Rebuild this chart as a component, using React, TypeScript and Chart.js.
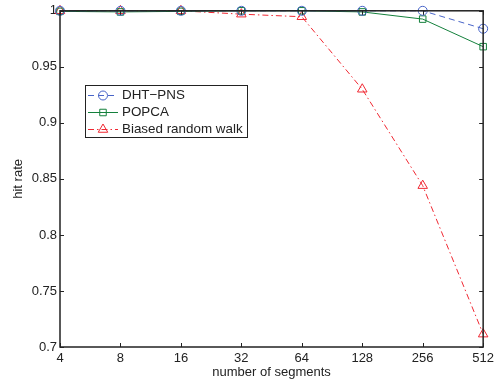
import React, { useEffect, useRef } from "react";
import { Chart, registerables } from "chart.js";

Chart.register(...registerables);

const categories = ["4", "8", "16", "32", "64", "128", "256", "512"];
const dhtPns = [1.0, 1.0, 1.0, 1.0, 1.0, 1.0, 1.0, 0.984];
const popca = [0.9995, 0.999, 0.9995, 1.0, 1.0, 0.999, 0.9926, 0.968];
const biased = [1.0, 1.0, 1.0, 0.997, 0.9947, 0.93, 0.844, 0.7115];
const yTickLabels = ["0.7", "0.75", "0.8", "0.85", "0.9", "0.95", "1"];

const FONT = "'Liberation Sans', Arial, Helvetica, sans-serif";
const BLUE = "rgb(72,100,200)";
const GREEN = "rgb(20,128,60)";
const RED = "rgb(240,40,50)";

const boxPlugin = {
  id: "matlabBox",
  afterDraw(chart: any) {
    const { ctx, chartArea } = chart;
    const { left, right, top, bottom } = chartArea;
    const xs = chart.scales.x;
    const ys = chart.scales.y;
    ctx.save();
    ctx.strokeStyle = "#222";
    ctx.lineWidth = 1.5;
    ctx.strokeRect(left, top, right - left, bottom - top);
    ctx.lineWidth = 1;
    const tl = 4;
    ctx.beginPath();
    xs.ticks.forEach((_t: any, i: number) => {
      const x = Math.round(xs.getPixelForTick(i)) + 0.5;
      ctx.moveTo(x, bottom);
      ctx.lineTo(x, bottom - tl);
      ctx.moveTo(x, top);
      ctx.lineTo(x, top + tl);
    });
    ys.ticks.forEach((_t: any, i: number) => {
      const y = Math.round(ys.getPixelForTick(i)) + 0.5;
      ctx.moveTo(left, y);
      ctx.lineTo(left + tl, y);
      ctx.moveTo(right, y);
      ctx.lineTo(right - tl, y);
    });
    ctx.stroke();

    // legend
    const bx = 85, by = 85, bw = 162, bh = 52;
    ctx.fillStyle = "#fff";
    ctx.fillRect(bx, by, bw, bh);
    ctx.lineWidth = 1;
    ctx.strokeStyle = "#222";
    ctx.strokeRect(bx + 0.5, by + 0.5, bw, bh);
    const rowY = [95.5, 112.5, 129.5];
    chart.data.datasets.forEach((ds: any, i: number) => {
      const y = rowY[i];
      ctx.save();
      ctx.strokeStyle = ds.borderColor;
      ctx.lineWidth = ds.borderWidth;
      ctx.setLineDash(ds.borderDash || []);
      ctx.beginPath();
      ctx.moveTo(88, y);
      ctx.lineTo(118, y);
      ctx.stroke();
      ctx.restore();
      ctx.save();
      ctx.setLineDash([]);
      ctx.strokeStyle = ds.borderColor;
      ctx.lineWidth = 1;
      ctx.beginPath();
      const r = ds.pointRadius;
      if (ds.pointStyle === "circle") {
        ctx.arc(103, y, r, 0, Math.PI * 2);
      } else if (ds.pointStyle === "rect") {
        const s = r * Math.SQRT1_2;
        ctx.rect(103 - s, y - s, 2 * s, 2 * s);
      } else {
        ctx.moveTo(103, y - r);
        ctx.lineTo(103 + r * 0.866, y + r * 0.5);
        ctx.lineTo(103 - r * 0.866, y + r * 0.5);
        ctx.closePath();
      }
      ctx.stroke();
      ctx.restore();
      ctx.fillStyle = "#222";
      ctx.font = `13.4px ${FONT}`;
      ctx.textBaseline = "middle";
      ctx.textAlign = "left";
      ctx.fillText(ds.label, 122, y);
    });
    ctx.restore();
  },
};

export default function App() {
  const ref = useRef<HTMLCanvasElement | null>(null);
  useEffect(() => {
    if (!ref.current) return;
    const chart = new Chart(ref.current, {
      type: "line",
      data: {
        labels: categories,
        datasets: [
          {
            label: "DHT\u2212PNS",
            data: dhtPns,
            borderColor: BLUE,
            backgroundColor: "transparent",
            borderWidth: 1,
            borderDash: [6, 4],
            pointStyle: "circle",
            pointRadius: 4.5,
            pointBorderWidth: 1,
            pointBorderColor: BLUE,
            pointBackgroundColor: "transparent",
            tension: 0,
            clip: false,
          } as any,
          {
            label: "POPCA",
            data: popca,
            borderColor: GREEN,
            backgroundColor: "transparent",
            borderWidth: 1,
            pointStyle: "rect",
            pointRadius: 4.6,
            pointBorderWidth: 1,
            pointBorderColor: GREEN,
            pointBackgroundColor: "transparent",
            tension: 0,
            clip: false,
          } as any,
          {
            label: "Biased random walk",
            data: biased,
            borderColor: RED,
            backgroundColor: "transparent",
            borderWidth: 1,
            borderDash: [6, 3, 1.5, 3],
            pointStyle: "triangle",
            pointRadius: 5.5,
            pointBorderWidth: 1,
            pointBorderColor: RED,
            pointBackgroundColor: "transparent",
            tension: 0,
            clip: false,
          } as any,
        ],
      },
      options: {
        responsive: false,
        animation: false,
        devicePixelRatio: 1,
        layout: { padding: { left: 0, right: 10, top: 10, bottom: 0 } },
        plugins: { legend: { display: false }, tooltip: { enabled: false } },
        scales: {
          x: {
            type: "category",
            offset: false,
            grid: { display: false, drawTicks: false },
            border: { display: false },
            ticks: {
              color: "#222",
              font: { family: FONT, size: 13 },
              padding: 4,
              maxRotation: 0,
              autoSkip: false,
            },
            title: {
              display: true,
              text: "number of segments",
              color: "#222",
              font: { family: FONT, size: 13 },
              padding: { top: 0, bottom: 1 },
            },
            afterFit: (s: any) => {
              s.height = 34;
            },
          },
          y: {
            min: 0.7,
            max: 1.0,
            grid: { display: false, drawTicks: false },
            border: { display: false },
            ticks: {
              stepSize: 0.05,
              color: "#222",
              font: { family: FONT, size: 13 },
              padding: 3,
              callback: (_v: any, i: number) => yTickLabels[i],
            },
            title: {
              display: true,
              text: "hit rate",
              color: "#222",
              font: { family: FONT, size: 13 },
              padding: { top: 11, bottom: 0 },
            },
            afterFit: (s: any) => {
              s.width = 60;
            },
          },
        },
      } as any,
      plugins: [boxPlugin],
    });
    return () => chart.destroy();
  }, []);
  return (
    <div style={{ position: "absolute", left: 0, top: 0, width: 498, height: 381, background: "#fff" }}>
      <canvas ref={ref} width={498} height={381} />
    </div>
  );
}
